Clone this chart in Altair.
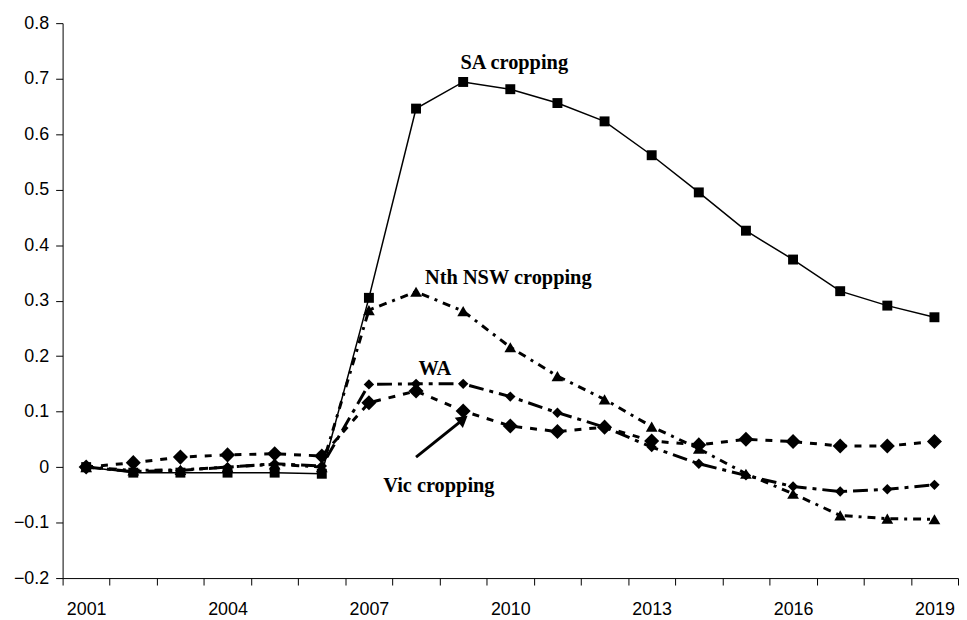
import altair as alt
import pandas as pd

# ---- data ----
years = [str(y) for y in range(2001, 2020)]
sa_cropping = [0.0, -0.010, -0.010, -0.010, -0.010, -0.012, 0.305, 0.646, 0.694, 0.681,
               0.656, 0.623, 0.562, 0.495, 0.426, 0.374, 0.317, 0.291, 0.270]
nth_nsw_cropping = [0.0, -0.006, -0.005, 0.000, 0.005, 0.000, 0.283, 0.316, 0.281, 0.216,
                    0.164, 0.122, 0.073, 0.033, -0.012, -0.048, -0.087, -0.093, -0.094]
wa = [0.0, -0.008, -0.006, 0.000, 0.006, 0.002, 0.149, 0.150, 0.150, 0.127,
      0.098, 0.072, 0.036, 0.006, -0.015, -0.035, -0.044, -0.040, -0.032]
vic_cropping = [0.0, 0.008, 0.018, 0.022, 0.024, 0.020, 0.116, 0.137, 0.101, 0.074,
                0.064, 0.072, 0.047, 0.040, 0.050, 0.046, 0.038, 0.038, 0.046]

x_label_years = ["2001", "2004", "2007", "2010", "2013", "2016", "2019"]
y_ticks = [-0.2, -0.1, 0.0, 0.1, 0.2, 0.3, 0.4, 0.5, 0.6, 0.7, 0.8]

ann_text = ["SA cropping", "Nth NSW cropping", "WA", "Vic cropping"]
ann_year = ["2010", "2010", "2008", "2008"]
ann_value = [0.728, 0.340, 0.176, -0.034]

arrow_year = ["2008", "2009"]
arrow_value = [0.018, 0.086]

# ---- encodings ----
label_list = "[" + ",".join("'%s'" % y for y in x_label_years) + "]"
x_enc = alt.X(
    "year:O",
    sort=years,
    title=None,
    scale=alt.Scale(type="band", domain=years, paddingInner=0, paddingOuter=0),
    axis=alt.Axis(
        tickBand="extent",
        labelAngle=0,
        labelExpr="indexof(%s, datum.label) >= 0 ? datum.label : ''" % label_list,
        labelFont="Liberation Sans",
        labelFontSize=18,
        labelColor="black",
        labelPadding=16,
        tickSize=7,
        tickColor="black",
        domainColor="black",
        domainWidth=1,
        tickWidth=1,
        grid=False,
    ),
)
y_enc = alt.Y(
    "value:Q",
    title=None,
    scale=alt.Scale(domain=[-0.2, 0.8], nice=False, zero=False),
    axis=alt.Axis(
        values=y_ticks,
        labelExpr="abs(datum.value) < 1e-9 ? '0' : format(datum.value, '.1f')",
        labelFont="Liberation Sans",
        labelFontSize=18,
        labelColor="black",
        labelPadding=7,
        tickSize=7,
        tickColor="black",
        domainColor="black",
        domainWidth=1,
        tickWidth=1,
        grid=False,
    ),
)


def series_layer(values, width, shape, size, dash=None):
    df = pd.DataFrame({"year": years, "value": values})
    kw = dict(color="black", strokeWidth=width, strokeCap="butt",
              point=alt.OverlayMarkDef(shape=shape, size=size, filled=True,
                                       color="black", opacity=1))
    if dash is not None:
        kw["strokeDash"] = dash
    return alt.Chart(df).mark_line(**kw).encode(x=x_enc, y=y_enc)


layers = [
    series_layer(vic_cropping, 3, "diamond", 230, [7, 8]),
    series_layer(wa, 3, "diamond", 110, [15, 6, 4, 6]),
    series_layer(nth_nsw_cropping, 3, "triangle-up", 140, [8, 6, 3, 6]),
    series_layer(sa_cropping, 1.5, "square", 100),
]

ann_dx = [4, -2, 19, 23]
for t, yr, v, dx in zip(ann_text, ann_year, ann_value, ann_dx):
    df = pd.DataFrame({"year": [yr], "value": [v], "text": [t]})
    layers.append(
        alt.Chart(df).mark_text(font="Liberation Serif", fontWeight="bold",
                                fontSize=20.5, color="black", dx=dx, baseline="middle")
        .encode(x=x_enc, y=y_enc, text="text:N")
    )

arrow_df = pd.DataFrame({"year": arrow_year, "value": arrow_value})
layers.append(
    alt.Chart(arrow_df).mark_line(color="black", strokeWidth=3).encode(x=x_enc, y=y_enc)
)
head_df = pd.DataFrame({"year": arrow_year[-1:], "value": arrow_value[-1:]})
layers.append(
    alt.Chart(head_df).mark_point(shape="triangle-up", size=170, filled=True,
                                  color="black", opacity=1, angle=51)
    .encode(x=x_enc, y=y_enc)
)

chart = (
    alt.layer(*layers)
    .properties(
        width=902,
        height=559,
        autosize=alt.AutoSizeParams(type="none"),
        padding={"left": 55, "top": 13, "right": 1, "bottom": 44},
        background="white",
    )
    .configure_view(stroke=None)
)

chart.save("out.html", embed_options={"renderer": "svg", "actions": False})
